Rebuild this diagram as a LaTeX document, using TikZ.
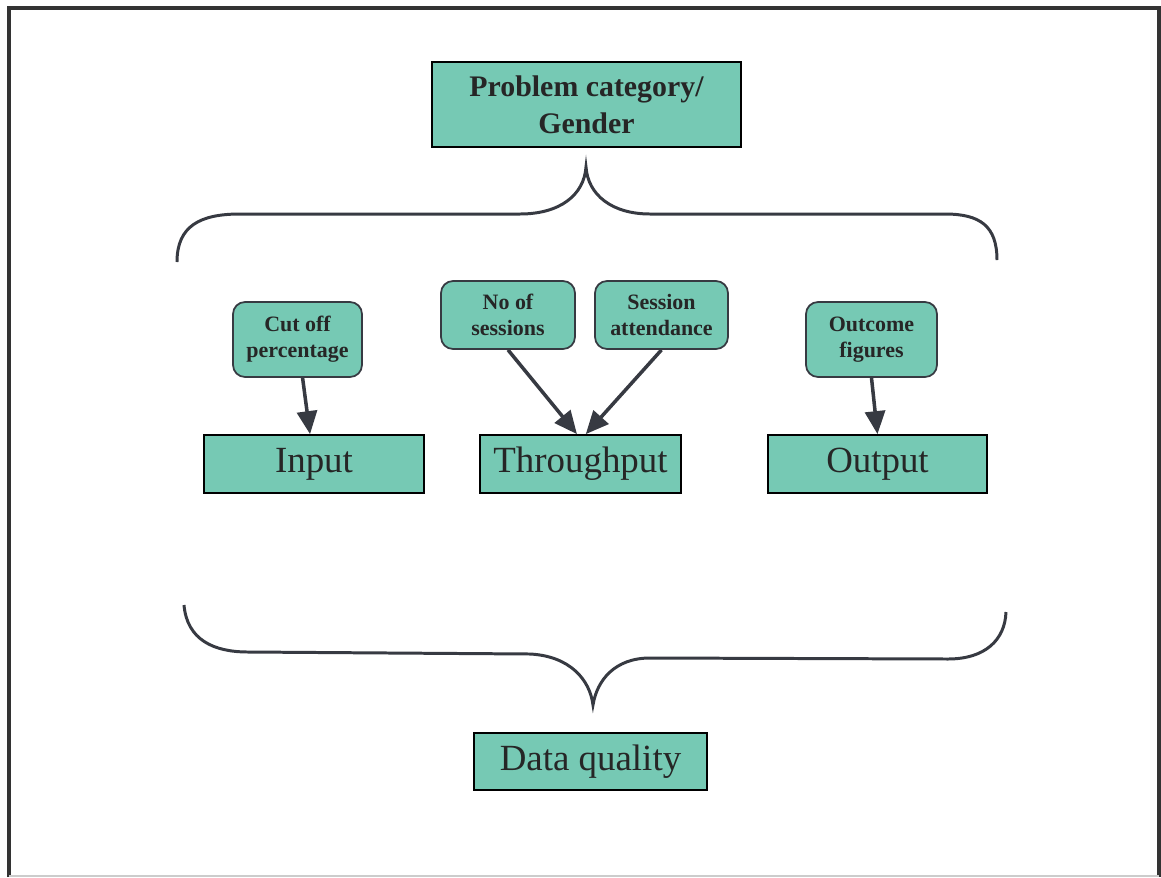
\documentclass[tikz,border=0pt]{standalone}
\usepackage{fontspec}
\setmainfont{Liberation Serif}
\usepackage{tikz}
\usetikzlibrary{positioning, arrows.meta}
\definecolor{boxfill}{RGB}{118,201,180}
\definecolor{ink}{RGB}{55,58,66}
\tikzset{
	>={Triangle[length=4.6mm, width=4mm]}, % big triangular heads
	stage/.style={draw=black, line width=1pt, fill=boxfill, font=\fontsize{21}{24}\selectfont, inner sep=0pt}, % the three main boxes
	tag/.style={draw=ink, line width=1pt, fill=boxfill, rounded corners=0.24cm, align=center, font=\fontsize{12.5}{15}\selectfont\bfseries, inner sep=0pt}, % small rounded boxes
	headbox/.style={draw=black, line width=1.6pt, fill=boxfill, align=center, inner sep=0pt}, % top and bottom boxes
	feed/.style={->, draw=ink, line width=2pt}, % arrows into the stages
	brace/.style={draw=ink, line width=1.7pt}, % the two curly brackets
}

\begin{document}
\begin{tikzpicture}[x=0.02cm, y=-0.02cm, text=black!85]
	\useasboundingbox (0,0) rectangle (1161,877);
	\draw[black!80, line width=2pt] (9,877) -- (9,8) -- (1159,8) -- (1159,877);
	\draw[black!20, line width=0.6pt] (9,876) -- (1159,876);

	\node[headbox, minimum width=6.18cm, minimum height=1.7cm, font=\fontsize{17}{21}\selectfont\bfseries] at (586.5,104.5) (cat) {Problem category/\\Gender};

	\draw[brace] (177,262) .. controls (177,226) and (200,214) .. (240,214) -- (520,214)
		.. controls (560,214) and (584,195) .. (586,167)
		.. controls (588,195) and (612,214) .. (650,214) -- (945,214)
		.. controls (980,214) and (997,226) .. (997,260);

	\node[tag, minimum width=2.58cm, minimum height=1.5cm] at (297.5,339.5) (cutoff) {Cut off\\percentage};
	\node[tag, minimum width=2.68cm, minimum height=1.36cm] at (508,315) (nosess) {No of\\sessions};
	\node[tag, minimum width=2.66cm, minimum height=1.36cm] at (661.5,315) (attend) {Session\\attendance};
	\node[tag, minimum width=2.62cm, minimum height=1.5cm] at (871.5,339.5) (outcome) {Outcome\\figures};

	\node[stage, minimum width=4.4cm, minimum height=1.16cm] at (314,464) (input) {Input};
	\node[stage, minimum width=4.02cm, minimum height=1.16cm] at (580.5,464) (through) {Throughput};
	\node[stage, minimum width=4.38cm, minimum height=1.16cm] at (877.5,464) (output) {Output};

	\draw[feed] (cutoff) -- (input);
	\draw[feed] (nosess.south) -- ([xshift=-2pt]through.north);
	\draw[feed] (attend.south) -- ([xshift=3pt]through.north);
	\draw[feed] (outcome.south) -- (output.north);

	\draw[brace] (184,605) .. controls (187,640) and (214,652) .. (248,652) -- (530,654)
		.. controls (570,656) and (590,680) .. (593,705)
		.. controls (597,680) and (615,658) .. (650,658) -- (948,659)
		.. controls (985,659) and (1005,640) .. (1006,612);

	\node[headbox, minimum width=4.66cm, minimum height=1.14cm, font=\fontsize{21}{24}\selectfont] at (590.5,761.5) (quality) {Data quality};
\end{tikzpicture}
\end{document}
